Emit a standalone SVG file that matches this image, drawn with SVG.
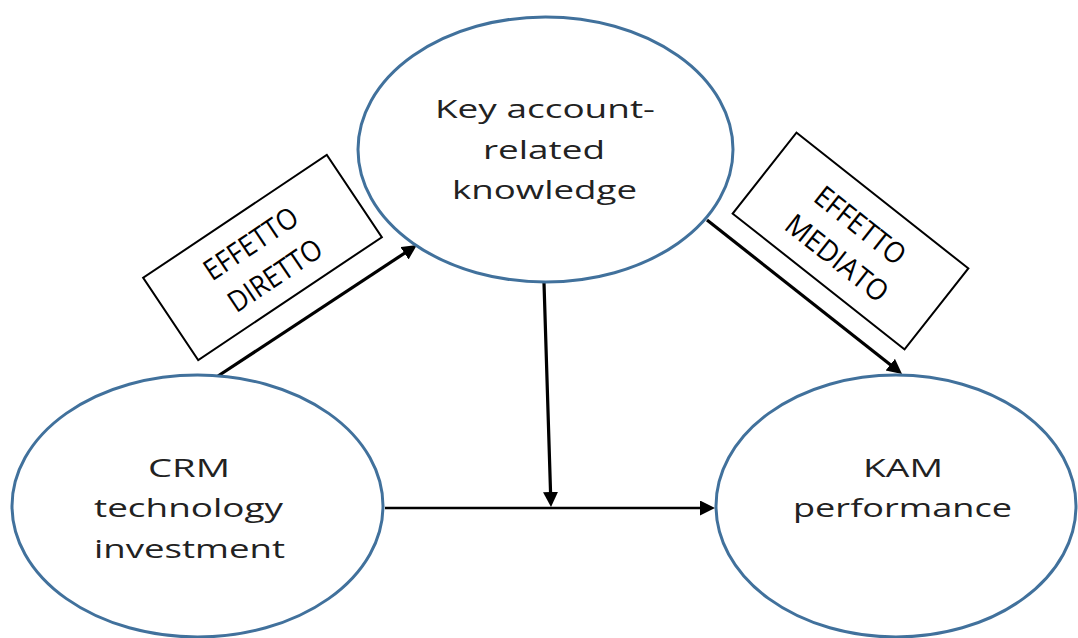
<svg xmlns="http://www.w3.org/2000/svg" width="1078" height="638" viewBox="0 0 1078 638">
  <style>
    .node { fill: #ffffff; stroke: #41719c; stroke-width: 3; }
    .label { font-family: "Open Sans", "Liberation Sans", sans-serif; font-size: 26px; fill: #222222; text-anchor: middle; }
    .tag-box { fill: #ffffff; stroke: #000000; stroke-width: 2; }
    .tag { font-family: "Open Sans", "Liberation Sans", sans-serif; font-size: 29px; fill: #000000; text-anchor: middle; }
    .link { stroke: #000000; stroke-width: 3.2; fill: none; marker-end: url(#head); }
  </style>
  <defs>
    <marker id="head" markerUnits="userSpaceOnUse" markerWidth="16" markerHeight="16" refX="5" refY="7.5" orient="auto">
      <path d="M0,0 L15,7.5 L0,15 z" fill="#000000"/>
    </marker>
  </defs>

  <rect width="1078" height="638" fill="#ffffff"/>

  <!-- connectors -->
  <g id="connectors">
    <line class="link" x1="218" y1="376" x2="408.6" y2="250.5"/>
    <line class="link" x1="707" y1="220" x2="894.2" y2="367.8"/>
    <line class="link" x1="544" y1="283" x2="550.7" y2="497"/>
    <line class="link" style="stroke-width:2.6" x1="385" y1="508" x2="705" y2="508"/>
  </g>

  <!-- knowledge node -->
  <g id="node-knowledge">
    <ellipse class="node" cx="545.5" cy="149.5" rx="187.5" ry="132.5"/>
    <text class="label" x="545" y="118" textLength="220" lengthAdjust="spacingAndGlyphs">Key account-</text>
    <text class="label" x="544" y="159" textLength="122" lengthAdjust="spacingAndGlyphs">related</text>
    <text class="label" x="544.5" y="199" textLength="185" lengthAdjust="spacingAndGlyphs">knowledge</text>
  </g>

  <!-- CRM node -->
  <g id="node-crm">
    <ellipse class="node" cx="197.5" cy="506" rx="185.5" ry="131"/>
    <text class="label" x="189" y="477" textLength="82" lengthAdjust="spacingAndGlyphs">CRM</text>
    <text class="label" x="188.5" y="517" textLength="189" lengthAdjust="spacingAndGlyphs">technology</text>
    <text class="label" x="189.5" y="558" textLength="191" lengthAdjust="spacingAndGlyphs">investment</text>
  </g>

  <!-- KAM node -->
  <g id="node-kam">
    <ellipse class="node" cx="896" cy="506" rx="180" ry="131"/>
    <text class="label" x="903" y="477" textLength="80" lengthAdjust="spacingAndGlyphs">KAM</text>
    <text class="label" x="902.5" y="517" textLength="219" lengthAdjust="spacingAndGlyphs">performance</text>
  </g>

  <!-- direct effect tag -->
  <g id="tag-direct" transform="translate(262.5,257.5) rotate(-33.8)">
    <rect class="tag-box" x="-110.5" y="-49.5" width="221" height="99"/>
    <text class="tag" x="-2" y="-8" textLength="107" lengthAdjust="spacingAndGlyphs">EFFETTO</text>
    <text class="tag" x="0.5" y="32" textLength="107" lengthAdjust="spacingAndGlyphs">DIRETTO</text>
  </g>

  <!-- mediated effect tag -->
  <g id="tag-mediated" transform="translate(850.5,241) rotate(38.3)">
    <rect class="tag-box" x="-109.5" y="-51.5" width="219" height="103"/>
    <text class="tag" x="-2" y="-8" textLength="107" lengthAdjust="spacingAndGlyphs">EFFETTO</text>
    <text class="tag" x="0" y="32" textLength="122" lengthAdjust="spacingAndGlyphs">MEDIATO</text>
  </g>
</svg>
